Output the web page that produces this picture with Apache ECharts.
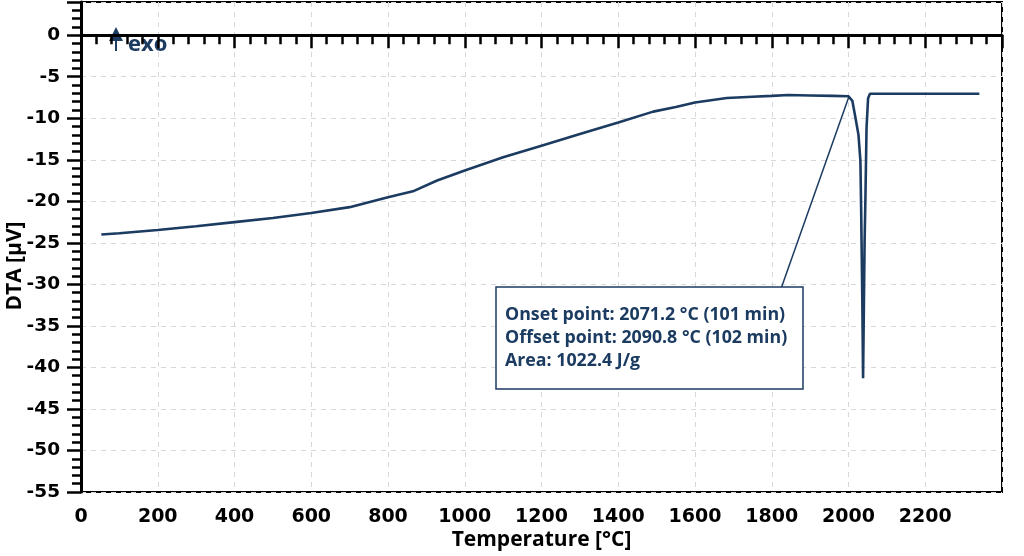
<!DOCTYPE html>
<html>
<head>
<meta charset="utf-8">
<script src="https://cdn.jsdelivr.net/npm/echarts@6/dist/echarts.min.js"></script>
<style>
html,body{margin:0;padding:0;background:#fff;}
#chart{width:1024px;height:556px;}
</style>
</head>
<body>
<div id="chart"></div>
<script>
// Data
var temperature = [53, 100, 200, 300, 400, 500, 600, 700, 800, 865, 928, 1000, 1100, 1200, 1300, 1400, 1491, 1550, 1600, 1683, 1750, 1800, 1843, 1900, 1960, 2000, 2010, 2018, 2026, 2031, 2033, 2036, 2038, 2042, 2044, 2047, 2051, 2056, 2200, 2341];
var dta = [-24.0, -23.85, -23.45, -23.0, -22.5, -22.0, -21.4, -20.7, -19.5, -18.8, -17.5, -16.3, -14.7, -13.3, -11.9, -10.5, -9.2, -8.65, -8.1, -7.55, -7.4, -7.3, -7.2, -7.25, -7.3, -7.35, -7.9, -9.9, -12.0, -15.1, -21.1, -31.9, -41.3, -24.7, -19.9, -11.2, -7.6, -7.05, -7.05, -7.05];
// onset tangent annotation line
var tangentT = [2001, 1825];
var tangentY = [-7.4, -30.4];
var xTicks = {min: 0, max: 2400, interval: 200};
var yTicks = {min: -55, max: 4, interval: 5};
var annotationLines = ['Onset point: 2071.2 °C (101 min)', 'Offset point: 2090.8 °C (102 min)', 'Area: 1022.4 J/g'];

var navy = '#1b3b61';
var font = 'Open Sans';
var tickFont = 'DejaVu Sans';

function zip(a, b) { return a.map(function (v, i) { return [v, b[i]]; }); }

var chart = echarts.init(document.getElementById('chart'));
chart.setOption({
  animation: false,
  backgroundColor: '#fff',
  grid: {left: 81, right: 22, top: 2, bottom: 64, outerBoundsMode: 'none', containLabel: false, show: true, borderColor: '#000', borderWidth: 2, backgroundColor: 'transparent'},
  xAxis: {
    type: 'value', min: xTicks.min, max: xTicks.max, interval: xTicks.interval,
    name: 'Temperature [°C]', nameLocation: 'middle', nameGap: 38, nameMoveOverlap: false,
    nameTextStyle: {fontFamily: font, fontWeight: 'bold', fontSize: 21, color: '#000'},
    axisLine: {lineStyle: {color: '#000', width: 3}},
    axisTick: {length: 13, lineStyle: {color: '#000', width: 2.5}},
    minorTick: {show: true, splitNumber: 5, length: 9, lineStyle: {color: '#000', width: 2.5}},
    axisLabel: {showMaxLabel: false, formatter: function (v) { return String(v); }, fontFamily: tickFont, fontWeight: 'bold', fontSize: 19, color: '#000', margin: 16},
    splitLine: {show: true, lineStyle: {color: '#d8d8d8', type: [5, 5], width: 1}}
  },
  yAxis: {
    type: 'value', min: yTicks.min, max: yTicks.max, interval: yTicks.interval,
    name: 'DTA [µV]', nameLocation: 'middle', nameGap: 55, nameMoveOverlap: false,
    nameTextStyle: {fontFamily: font, fontWeight: 'bold', fontSize: 21, color: '#000', padding: [0, 38, 0, 0]},
    axisLine: {lineStyle: {color: '#000', width: 3}},
    axisTick: {length: 14, lineStyle: {color: '#000', width: 2.5}},
    minorTick: {show: true, splitNumber: 5, length: 9, lineStyle: {color: '#000', width: 2.5}},
    axisLabel: {showMaxLabel: false, formatter: function (v) { return String(v); }, fontFamily: tickFont, fontWeight: 'bold', fontSize: 18.5, color: '#000', margin: 21},
    splitLine: {show: true, lineStyle: {color: '#d8d8d8', type: [5, 5], width: 1}}
  },
  series: [
    {type: 'line', data: zip(temperature, dta), showSymbol: false, lineStyle: {color: navy, width: 2.6}, z: 3},
    {type: 'line', data: zip(tangentT, tangentY), showSymbol: false, lineStyle: {color: navy, width: 1.5}, z: 2}
  ],
  graphic: [
    {type: 'line', shape: {x1: 116, y1: 40, x2: 116, y2: 51}, style: {stroke: navy, lineWidth: 2}},
    {type: 'polygon', shape: {points: [[109, 41], [123, 41], [116, 27]]}, style: {fill: navy}},
    {type: 'text', x: 128, y: 45, style: {text: 'exo', fill: navy, fontFamily: font, fontWeight: 'bold', fontSize: 22, verticalAlign: 'middle'}},
    {type: 'rect', shape: {x: 496, y: 287, width: 307, height: 102}, style: {fill: '#fff', stroke: navy, lineWidth: 1.5}, z: 10},
    {type: 'text', x: 505, y: 338, z: 11, style: {text: annotationLines.join('\n'), fill: navy, fontFamily: font, fontWeight: 'bold', fontSize: 17.8, lineHeight: 23, verticalAlign: 'middle'}}
  ]
});
</script>
</body>
</html>
